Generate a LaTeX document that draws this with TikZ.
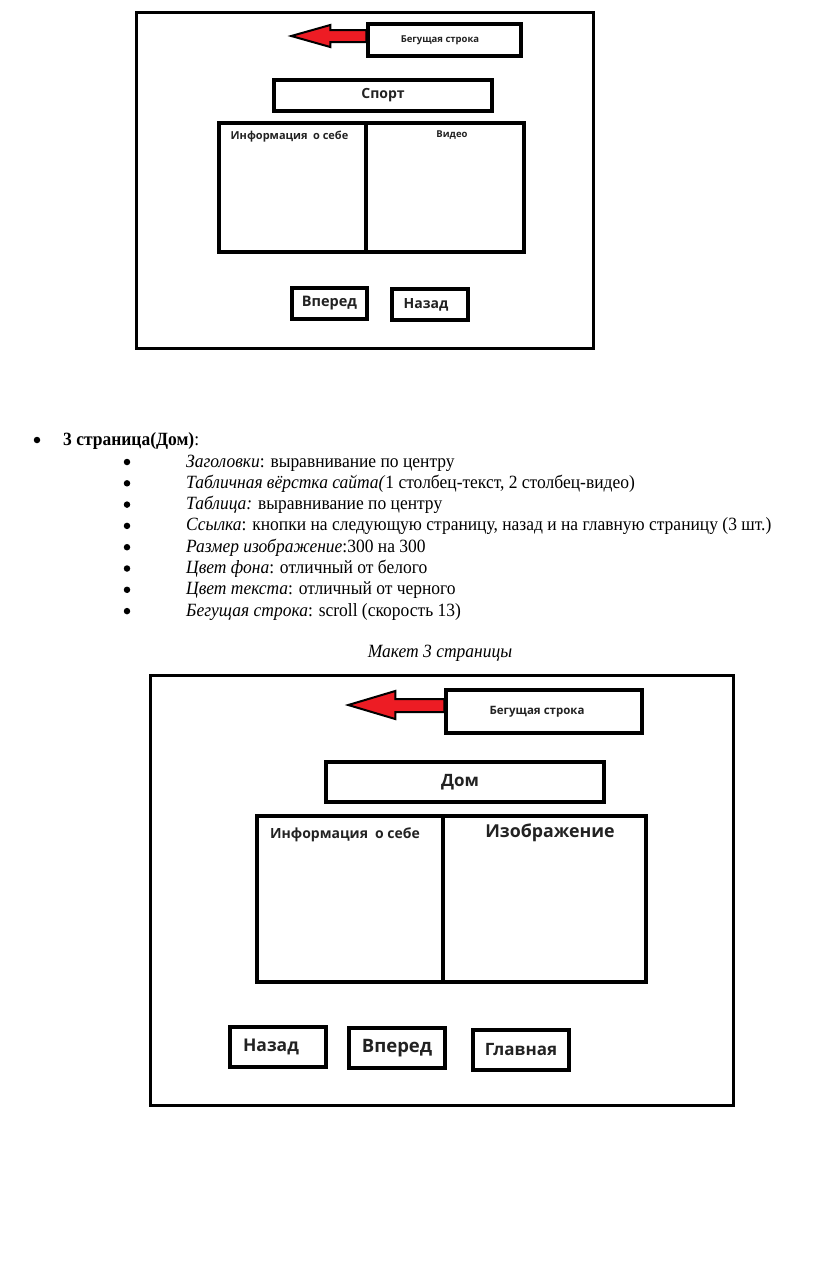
\documentclass[tikz,border=0pt]{standalone}
\usepackage{fontspec}
\setmainfont{Liberation Serif}[FakeStretch=0.935]
\newfontfamily\uifont{Open Sans}
\usetikzlibrary{calc}
\definecolor{ArrowRed}{RGB}{237,28,36}
\definecolor{LabelInk}{RGB}{34,34,34}

\begin{document}
\begin{tikzpicture}[x=1pt,y=-1pt,
  frame/.style={draw,line width=3pt},
  box/.style={draw,line width=3.5pt,inner sep=0pt,text=LabelInk},
  ui/.style={text=LabelInk,font=\uifont\bfseries\fontsize{#1}{#1}\selectfont},
  txt/.style={font=\fontsize{18.7}{21.5}\selectfont,inner sep=0pt},
  dot/.style={circle,fill,inner sep=0pt,minimum size=6.5pt},
  runarrow/.style={draw,line width=2pt,fill=ArrowRed,line join=miter}]
  \useasboundingbox (0,0) rectangle (816,1262);

  % макет 2 страницы
  \draw[frame] (136,12) rectangle (593,348);
  \node[box,minimum width=153,minimum height=32,ui=9.5] (tickA) at (444.5,40) {Бегущая строка\kern9pt};
  \draw[runarrow] (tickA.west) ++(0,-10) -- ++(-36,0) -- ++(0,-5) -- ++(-39,11) -- ++(39,11) -- ++(0,-5) -- ++(36,0) -- cycle;
  \node[box,minimum width=218,minimum height=31,ui=14] (sportA) at (383,95.5) {Спорт};
  \node[box,minimum width=147,minimum height=129] (infoA) at (292.5,187.5) {};
  \node[box,minimum width=158,minimum height=129] (videoA) at (445,187.5) {};
  \node[ui=11] (infoAl) at (289.5,137) {Информация\hspace{.5em}о себе};
  \node[ui=9.5] (videoAl) at (452,135) {Видео};
  \node[box,minimum width=75,minimum height=31,ui=14.5] (fwdA) at (329.5,303.5) {Вперед};
  \node[box,minimum width=76,minimum height=31,ui=14] (backA) at (430,304.5) {Назад\kern8pt};

  % описание
  \node[dot] (headdot) at (37,440) {};
  \node[txt,anchor=base west] (head) at (63,445) {\textbf{3 страница(Дом)}:};
  \foreach \t [count=\i] in {
    {\textit{Заголовки}: выравнивание по центру},
    {\textit{Табличная вёрстка сайта(}1 столбец-текст, 2 столбец-видео)},
    {\textit{Таблица:} выравнивание по центру},
    {\textit{Ссылка}: кнопки на следующую страницу, назад и на главную страницу (3 шт.)},
    {\textit{Размер изображение}:300 на 300},
    {\textit{Цвет фона}: отличный от белого},
    {\textit{Цвет текста}: отличный от черного},
    {\textit{Бегущая строка}: scroll (скорость 13)}} {
    \node[dot] (dot\i) at (127,{462+21.3*(\i-1)}) {};
    \node[txt,anchor=base west] (item\i) at (186,{467+21.3*(\i-1)}) {\t};
  }
  \node[txt,anchor=base] (caption) at (440,657) {\textit{Макет 3 страницы}};

  % макет 3 страницы
  \draw[frame] (150,675) rectangle (733,1105);
  \node[box,minimum width=196,minimum height=43,ui=11.5] (tickB) at (544,711.5) {Бегущая строка\kern14pt};
  \draw[runarrow] (tickB.west) ++(0,-12.5) -- ++(-49,0) -- ++(0,-8) -- ++(-47,14) -- ++(47,14) -- ++(0,-7) -- ++(49,0) -- cycle;
  \node[box,minimum width=278,minimum height=40,ui=17] (domB) at (465,782) {Дом\kern10pt};
  \node[box,minimum width=186,minimum height=166] (infoB) at (350,899) {};
  \node[box,minimum width=203,minimum height=166] (imgB) at (544.5,899) {};
  \node[ui=14] (infoBl) at (345,835) {Информация\hspace{.5em}о себе};
  \node[ui=17.8] (imgBl) at (550,833) {Изображение};
  \node[box,minimum width=96,minimum height=40,ui=17.5] (backB) at (278,1047) {Назад\kern14pt};
  \node[box,minimum width=96,minimum height=40,ui=18.5] (fwdB) at (397,1048) {Вперед};
  \node[box,minimum width=96,minimum height=40,ui=17] (homeB) at (521,1050) {Главная};
\end{tikzpicture}
\end{document}
